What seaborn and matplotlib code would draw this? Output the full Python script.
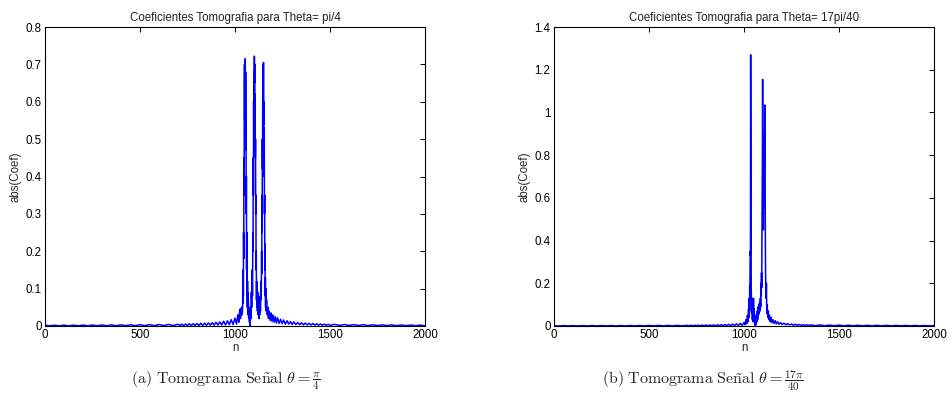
import numpy as np
import pandas as pd
import matplotlib
matplotlib.use("Agg")
import matplotlib.pyplot as plt
import seaborn as sns

# ---------------- data (sample index n, |coef|) ----------------
# Panel (a): theta = pi/4
tail_left_a = [(0, 0.002), (25, 0.0005), (50, 0.002), (75, 0.0005), (100, 0.0022), (125, 0.0005),
               (150, 0.0022), (175, 0.0006), (200, 0.0024), (225, 0.0006), (250, 0.0025), (275, 0.0006),
               (300, 0.0027), (325, 0.0007), (350, 0.0028), (375, 0.0007), (400, 0.003), (425, 0.0008),
               (450, 0.0032), (475, 0.0008), (500, 0.0035), (525, 0.0009), (550, 0.0037), (575, 0.0009),
               (600, 0.004), (625, 0.001), (650, 0.0043), (675, 0.0011), (700, 0.0047), (710, 0.0012),
               (720, 0.005), (730, 0.0013), (740, 0.0053), (750, 0.0014), (760, 0.0057), (770, 0.0015),
               (780, 0.006), (790, 0.0016), (800, 0.0065), (810, 0.0017), (820, 0.007), (830, 0.0018),
               (840, 0.0076), (850, 0.002), (860, 0.0083), (870, 0.0021), (880, 0.009), (890, 0.0023),
               (900, 0.010), (910, 0.0025), (920, 0.011), (930, 0.0028), (940, 0.0125), (950, 0.003),
               (960, 0.014), (970, 0.0035), (980, 0.017), (990, 0.004), (1000, 0.021), (1008, 0.005),
               (1015, 0.030), (1020, 0.010), (1025, 0.045), (1030, 0.020), (1034, 0.050), (1038, 0.030)]
center_a = [(1040, 0.05), (1041, 0.10), (1042, 0.06), (1043, 0.15), (1044, 0.08), (1045, 0.25),
            (1046, 0.18), (1047, 0.45), (1048, 0.35), (1049, 0.65), (1050, 0.70), (1051, 0.55),
            (1052, 0.71), (1053, 0.60), (1054, 0.715), (1055, 0.50), (1056, 0.68), (1057, 0.47),
            (1058, 0.55), (1059, 0.30), (1060, 0.40), (1061, 0.15), (1062, 0.25), (1063, 0.08),
            (1064, 0.15), (1065, 0.05), (1066, 0.12), (1067, 0.04), (1068, 0.09), (1069, 0.03),
            (1070, 0.07), (1072, 0.02), (1074, 0.05), (1076, 0.01), (1078, 0.03), (1080, 0.0),
            (1082, 0.05), (1084, 0.02), (1086, 0.09), (1088, 0.05), (1090, 0.15), (1092, 0.08),
            (1094, 0.25), (1095, 0.20), (1096, 0.45), (1097, 0.35), (1098, 0.60), (1099, 0.50),
            (1100, 0.68), (1101, 0.60), (1102, 0.722), (1103, 0.65), (1104, 0.70), (1105, 0.56),
            (1106, 0.62), (1107, 0.45), (1108, 0.50), (1109, 0.30), (1110, 0.35), (1111, 0.15),
            (1112, 0.20), (1113, 0.07), (1114, 0.12), (1115, 0.05), (1116, 0.10), (1118, 0.04),
            (1120, 0.09), (1122, 0.03), (1124, 0.06), (1126, 0.02), (1128, 0.05), (1130, 0.03),
            (1132, 0.08), (1134, 0.04), (1136, 0.12), (1138, 0.07), (1140, 0.20), (1141, 0.14),
            (1142, 0.35), (1143, 0.25), (1144, 0.50), (1145, 0.42), (1146, 0.62), (1147, 0.55),
            (1148, 0.70), (1149, 0.60), (1150, 0.705), (1151, 0.54), (1152, 0.60), (1153, 0.40),
            (1154, 0.53), (1155, 0.30), (1156, 0.35), (1157, 0.15), (1158, 0.22), (1159, 0.08),
            (1160, 0.13), (1161, 0.05), (1162, 0.10), (1164, 0.04), (1166, 0.07)]
tail_right_a = [(1170, 0.03), (1173, 0.05), (1176, 0.02), (1180, 0.04), (1185, 0.015), (1190, 0.035),
                (1195, 0.012), (1200, 0.03), (1206, 0.010), (1212, 0.025), (1218, 0.008), (1224, 0.022),
                (1232, 0.007), (1240, 0.018), (1248, 0.006), (1256, 0.016), (1265, 0.005), (1274, 0.014),
                (1283, 0.005), (1292, 0.012), (1301, 0.004), (1310, 0.011), (1320, 0.004), (1330, 0.0095),
                (1340, 0.0035), (1350, 0.0085), (1360, 0.003), (1370, 0.0078), (1380, 0.003), (1390, 0.007),
                (1400, 0.0028), (1410, 0.0065), (1420, 0.0025), (1430, 0.006), (1440, 0.0023), (1450, 0.0055),
                (1460, 0.0021), (1470, 0.005), (1480, 0.002), (1490, 0.0047), (1500, 0.0018), (1525, 0.0044),
                (1550, 0.0016), (1575, 0.004), (1600, 0.0015), (1625, 0.0037), (1650, 0.0013), (1675, 0.0034),
                (1700, 0.0012), (1725, 0.0032), (1750, 0.0011), (1775, 0.003), (1800, 0.001), (1825, 0.0028),
                (1850, 0.0009), (1875, 0.0026), (1900, 0.0008), (1925, 0.0025), (1950, 0.0008), (1975, 0.0023),
                (2000, 0.0007)]

# Panel (b): theta = 17pi/40
tail_left_b = [(0, 0.0015), (25, 0.0004), (50, 0.0015), (75, 0.0004), (100, 0.0016), (125, 0.0004),
               (150, 0.0016), (175, 0.0005), (200, 0.0017), (225, 0.0005), (250, 0.0018), (275, 0.0005),
               (300, 0.0019), (325, 0.0005), (350, 0.002), (375, 0.0006), (400, 0.0021), (425, 0.0006),
               (450, 0.0022), (475, 0.0006), (500, 0.0024), (525, 0.0007), (550, 0.0025), (575, 0.0007),
               (600, 0.0027), (625, 0.0008), (650, 0.0029), (675, 0.0008), (700, 0.0031), (710, 0.0009),
               (720, 0.0033), (730, 0.0009), (740, 0.0035), (750, 0.001), (760, 0.0038), (770, 0.001),
               (780, 0.004), (790, 0.0011), (800, 0.0043), (810, 0.0012), (820, 0.0047), (830, 0.0013),
               (840, 0.005), (850, 0.0014), (860, 0.0055), (870, 0.0015), (880, 0.006), (890, 0.0017),
               (900, 0.0067), (910, 0.0019), (920, 0.0075), (930, 0.0021), (940, 0.0085), (950, 0.0024),
               (960, 0.010), (970, 0.0028), (980, 0.012), (990, 0.0033), (1000, 0.016), (1005, 0.006)]
center_b = [(1010, 0.030), (1014, 0.010), (1018, 0.050), (1021, 0.020), (1024, 0.080), (1026, 0.040),
            (1028, 0.13), (1029, 0.07), (1030, 0.19), (1031, 0.12), (1032, 0.30), (1033, 0.35),
            (1034, 0.33), (1035, 1.27), (1036, 0.90), (1037, 0.33), (1038, 0.20), (1039, 0.10),
            (1040, 0.06), (1042, 0.13), (1044, 0.03), (1046, 0.11), (1048, 0.02), (1050, 0.13),
            (1052, 0.03), (1054, 0.08), (1056, 0.01), (1058, 0.05), (1060, 0.0), (1062, 0.03),
            (1064, 0.01), (1066, 0.05), (1068, 0.02), (1070, 0.07), (1072, 0.03), (1074, 0.09),
            (1076, 0.05), (1078, 0.10), (1080, 0.06), (1082, 0.11), (1084, 0.07), (1086, 0.13),
            (1088, 0.09), (1090, 0.20), (1091, 0.14), (1092, 0.25), (1093, 0.18), (1094, 0.33),
            (1095, 0.45), (1096, 0.60), (1097, 0.80), (1098, 1.155), (1099, 0.85), (1100, 0.70),
            (1101, 0.55), (1102, 0.45), (1103, 0.62), (1104, 0.55), (1105, 0.70), (1106, 0.60),
            (1107, 0.75), (1108, 0.80), (1109, 0.90), (1110, 1.035), (1111, 0.70), (1112, 0.50),
            (1113, 0.30), (1114, 0.22), (1115, 0.15), (1116, 0.13), (1118, 0.20), (1120, 0.06),
            (1122, 0.10)]
tail_right_b = [(1125, 0.04), (1128, 0.07), (1131, 0.03), (1134, 0.05), (1138, 0.02), (1142, 0.04),
                (1147, 0.015), (1152, 0.03), (1158, 0.012), (1164, 0.025), (1170, 0.010), (1177, 0.02),
                (1184, 0.008), (1192, 0.016), (1200, 0.007), (1210, 0.013), (1220, 0.006), (1230, 0.011),
                (1240, 0.005), (1250, 0.009), (1260, 0.004), (1270, 0.008), (1280, 0.0035), (1290, 0.007),
                (1300, 0.003), (1310, 0.006), (1320, 0.003), (1330, 0.0055), (1340, 0.0025), (1350, 0.005),
                (1375, 0.0014), (1400, 0.0045), (1425, 0.0013), (1450, 0.0042), (1475, 0.0012), (1500, 0.004),
                (1525, 0.0011), (1550, 0.0037), (1575, 0.001), (1600, 0.0034), (1625, 0.001), (1650, 0.0031),
                (1675, 0.0009), (1700, 0.0029), (1725, 0.0009), (1750, 0.0027), (1775, 0.0008), (1800, 0.0025),
                (1825, 0.0008), (1850, 0.0023), (1875, 0.0007), (1900, 0.0022), (1925, 0.0007), (1950, 0.0021),
                (1975, 0.0006), (2000, 0.002)]

titles = ["Coeficientes Tomografia para Theta= pi/4", "Coeficientes Tomografia para Theta= 17pi/40"]
captions = [r"$\mathrm{(a)\ Tomograma\ Se\tilde{n}al}\ \theta = \frac{\pi}{4}$",
            r"$\mathrm{(b)\ Tomograma\ Se\tilde{n}al}\ \theta = \frac{17\pi}{40}$"]
xticks = [0, 500, 1000, 1500, 2000]
yticks_a = [0, 0.1, 0.2, 0.3, 0.4, 0.5, 0.6, 0.7, 0.8]
yticks_b = [0, 0.2, 0.4, 0.6, 0.8, 1.0, 1.2, 1.4]
ytick_labels_b = ["0", "0.2", "0.4", "0.6", "0.8", "1", "1.2", "1.4"]

# ---------------- build frames ----------------
def frame(*parts):
    pts = [p for part in parts for p in part]
    return pd.DataFrame(pts, columns=["n", "coef"])

df_a = frame(tail_left_a, center_a, tail_right_a)
df_b = frame(tail_left_b, center_b, tail_right_b)

# ---------------- plot ----------------
sns.set_style("white")
plt.rcParams["font.family"] = ["Liberation Sans", "DejaVu Sans"]
plt.rcParams["mathtext.fontset"] = "cm"

fig = plt.figure(figsize=(9.48, 4.12), dpi=100)
ax_a = fig.add_axes([45 / 948, 1 - 326 / 412, 380 / 948, 299 / 412])
ax_b = fig.add_axes([554 / 948, 1 - 326 / 412, 380 / 948, 299 / 412])

panels = [(ax_a, df_a, yticks_a, [f"{v:g}" for v in yticks_a], 0.8),
          (ax_b, df_b, yticks_b, ytick_labels_b, 1.4)]

fs = 8.3
for i, (ax, df, yt, ytl, ymax) in enumerate(panels):
    sns.lineplot(data=df, x="n", y="coef", ax=ax, color=(0, 0, 1), linewidth=1.1,
                 estimator=None, sort=False)
    ax.set_xlim(0, 2000)
    ax.set_ylim(0, ymax)
    ax.set_xticks(xticks)
    ax.set_xticklabels([str(v) for v in xticks])
    ax.set_yticks(yt)
    ax.set_yticklabels(ytl)
    ax.tick_params(direction="in", length=3.5, width=0.7, top=True, right=True,
                   labelsize=fs, colors="black", pad=2.5)
    for s in ax.spines.values():
        s.set_color("black")
        s.set_linewidth(0.8)
        s.set_zorder(3)
    ax.set_xlabel("n", fontsize=fs, labelpad=0.5)
    ax.set_ylabel("abs(Coef)", fontsize=fs, labelpad=3)
    ax.set_title(titles[i], fontsize=fs, pad=4, color="#222222")

fig.text(226 / 948, 1 - 381 / 412, captions[0], ha="center", va="center", fontsize=11.5)
fig.text(703 / 948, 1 - 381 / 412, captions[1], ha="center", va="center", fontsize=11.5)

fig.savefig("out.png", dpi=100)
